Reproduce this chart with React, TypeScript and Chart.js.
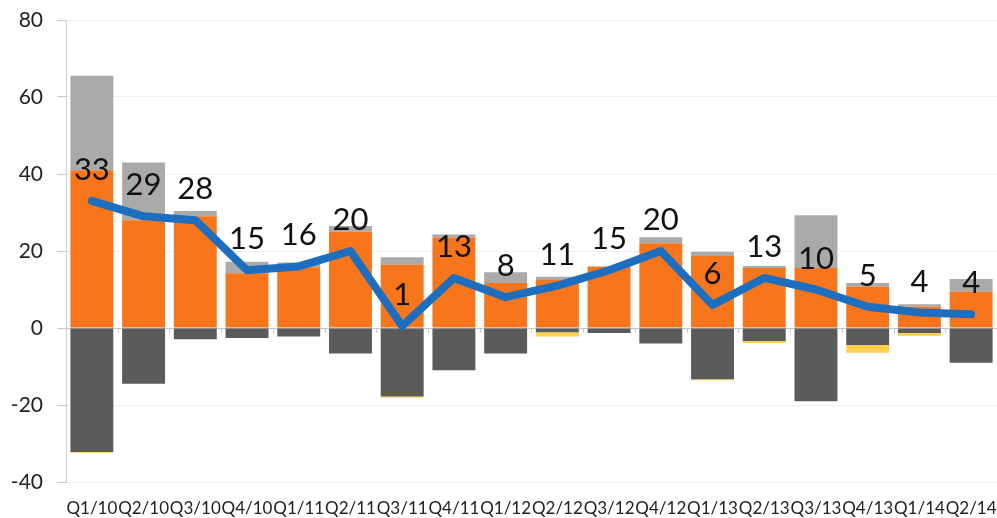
import React, { useEffect, useRef } from "react";
import { Chart, registerables } from "chart.js";

Chart.register(...registerables);

const categories = [
  "Q1/10", "Q2/10", "Q3/10", "Q4/10", "Q1/11", "Q2/11", "Q3/11", "Q4/11", "Q1/12",
  "Q2/12", "Q3/12", "Q4/12", "Q1/13", "Q2/13", "Q3/13", "Q4/13", "Q1/14", "Q2/14",
];
const orangeValues = [41, 28, 29, 14.2, 15.8, 25, 16.4, 23.5, 11.7, 12.5, 16, 22, 18.7, 15.6, 15.6, 10.7, 5.5, 9.4];
const lightGreyValues = [24.5, 15, 1.4, 3, 1.2, 1.5, 2, 0.8, 2.8, 0.8, 0, 1.6, 1.1, 0.5, 13.7, 1, 0.7, 3.3];
const darkGreyValues = [-32.2, -14.5, -2.9, -2.6, -2.2, -6.6, -17.8, -11, -6.6, -1.1, -1.3, -4, -13.3, -3.4, -19, -4.4, -1.3, -9];
const yellowValues = [-0.2, 0, 0, 0, 0, 0, -0.3, 0, 0, -1.1, 0, 0, -0.3, -0.5, 0, -2, -0.7, 0];
const lineValues = [33, 29, 28, 15, 16, 20, 0.5, 13, 8, 11, 15, 20, 6, 13, 10, 5.5, 4, 3.6];
const lineLabels = ["33", "29", "28", "15", "16", "20", "1", "13", "8", "11", "15", "20", "6", "13", "10", "5", "4", "4"];
const yTicks = [-40, -20, 0, 20, 40, 60, 80];

const FONT = "Lato, 'Open Sans', sans-serif";

const zeroTicksPlugin = {
  id: "zeroTicks",
  afterDatasetsDraw(chart: any) {
    const x = chart.scales.x;
    const y = chart.scales.y;
    const ctx = chart.ctx;
    const y0 = y.getPixelForValue(0);
    const half = (x.getPixelForValue(1) - x.getPixelForValue(0)) / 2;
    ctx.save();
    ctx.strokeStyle = "#c8c8c8";
    ctx.lineWidth = 1;
    ctx.beginPath();
    for (let i = 0; i <= categories.length; i++) {
      const px = Math.round(x.getPixelForValue(0) - half + i * 2 * half) + 0.5;
      ctx.moveTo(px, y0);
      ctx.lineTo(px, y0 + 5);
    }
    ctx.stroke();
    ctx.restore();
  },
};

const labelPlugin = {
  id: "lineLabels",
  afterDatasetsDraw(chart: any) {
    const meta = chart.getDatasetMeta(4);
    const ctx = chart.ctx;
    ctx.save();
    ctx.font = `31px ${FONT}`;
    ctx.fillStyle = "#111";
    ctx.textAlign = "center";
    ctx.textBaseline = "middle";
    meta.data.forEach((pt: any, i: number) => {
      ctx.fillText(lineLabels[i], pt.x, pt.y - 31);
    });
    ctx.restore();
  },
};

export default function App() {
  const ref = useRef<HTMLCanvasElement>(null);
  useEffect(() => {
    if (!ref.current) return;
    const chart = new Chart(ref.current, {
      type: "bar",
      data: {
        labels: categories,
        datasets: [
          { type: "bar", data: orangeValues, backgroundColor: "#F7761B", stack: "s", order: 2 },
          { type: "bar", data: lightGreyValues, backgroundColor: "#AAAAAA", stack: "s", order: 2 },
          { type: "bar", data: darkGreyValues, backgroundColor: "#5B5B5B", stack: "s", order: 2 },
          { type: "bar", data: yellowValues, backgroundColor: "#FFD04A", stack: "s", order: 2 },
          {
            type: "line",
            data: lineValues,
            borderColor: "#1E6EC0",
            borderWidth: 8,
            pointRadius: 0,
            borderJoinStyle: "round",
            borderCapStyle: "round",
            tension: 0,
            stack: "line",
            order: 1,
          } as any,
        ],
      },
      options: {
        animation: false,
        responsive: false,
        maintainAspectRatio: false,
        layout: { padding: { top: 20, right: 0, left: 0, bottom: 0 } },
        datasets: { bar: { categoryPercentage: 1, barPercentage: 0.83 } },
        plugins: { legend: { display: false }, tooltip: { enabled: false } },
        scales: {
          x: {
            grid: { display: false },
            border: { display: false },
            ticks: {
              color: "#222",
              font: { family: FONT, size: 17 },
              padding: 8,
              maxRotation: 0,
              autoSkip: false,
            },
            afterFit: (s: any) => { s.height = 36; s.paddingLeft = 0; s.paddingRight = 0; },
          },
          y: {
            stacked: true,
            min: -40,
            max: 80,
            afterBuildTicks: (s: any) => { s.ticks = yTicks.map((v) => ({ value: v })); },
            grid: {
              color: (c: any) => (c.tick && c.tick.value === 0 ? "#c4c4c4" : "#f0f0f0"),
              tickColor: "#c8c8c8",
              tickLength: 9,
              lineWidth: 1,
            },
            border: { color: "#d0d0d0" },
            ticks: {
              color: "#222",
              font: { family: FONT, size: 21 },
              padding: 14,
            },
            afterFit: (s: any) => { s.width = 66; s.paddingTop = 0; s.paddingBottom = 0; },
          },
        },
      },
      plugins: [zeroTicksPlugin, labelPlugin],
    });
    return () => chart.destroy();
  }, []);
  return (
    <div style={{ position: "absolute", left: 0, top: 0, width: 997, height: 518, background: "#fff" }}>
      <canvas ref={ref} width={997} height={518} />
    </div>
  );
}
